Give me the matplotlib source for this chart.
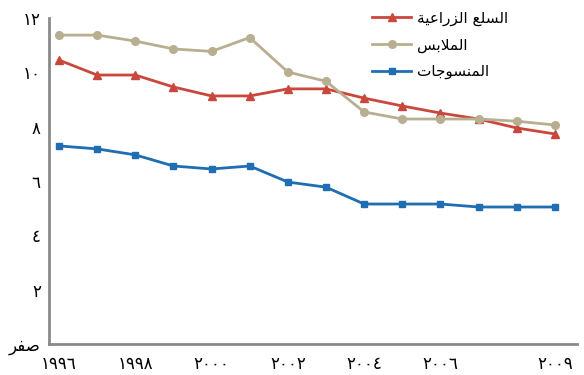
import matplotlib
matplotlib.use("Agg")
import matplotlib.pyplot as plt

# data
years = list(range(1996, 2010))
agri = [10.45, 9.9, 9.9, 9.46, 9.13, 9.13, 9.39, 9.39, 9.05, 8.76, 8.5, 8.28, 7.95, 7.73]
clothes = [11.37, 11.37, 11.15, 10.86, 10.77, 11.28, 10.01, 9.67, 8.54, 8.28, 8.28, 8.28, 8.2, 8.06]
textiles = [7.29, 7.18, 6.96, 6.55, 6.44, 6.55, 5.96, 5.77, 5.15, 5.15, 5.15, 5.04, 5.04, 5.04]

series_names = ["السلع الزراعية", "الملابس", "المنسوجات"]
x_ticks = [1996, 1998, 2000, 2002, 2004, 2006, 2009]
y_ticks = [0, 2, 4, 6, 8, 10, 12]
zero_label = "صفر"

ARABIC_DIGITS = "٠١٢٣٤٥٦٧٨٩"

# presentation forms: isolated, final, initial, medial
FORMS = {
    "ا": ("\uFE8D", "\uFE8E", None, None),
    "ب": ("\uFE8F", "\uFE90", "\uFE91", "\uFE92"),
    "ة": ("\uFE93", "\uFE94", None, None),
    "ت": ("\uFE95", "\uFE96", "\uFE97", "\uFE98"),
    "ج": ("\uFE9D", "\uFE9E", "\uFE9F", "\uFEA0"),
    "ر": ("\uFEAD", "\uFEAE", None, None),
    "ز": ("\uFEAF", "\uFEB0", None, None),
    "س": ("\uFEB1", "\uFEB2", "\uFEB3", "\uFEB4"),
    "ص": ("\uFEB9", "\uFEBA", "\uFEBB", "\uFEBC"),
    "ع": ("\uFEC9", "\uFECA", "\uFECB", "\uFECC"),
    "ف": ("\uFED1", "\uFED2", "\uFED3", "\uFED4"),
    "ل": ("\uFEDD", "\uFEDE", "\uFEDF", "\uFEE0"),
    "م": ("\uFEE1", "\uFEE2", "\uFEE3", "\uFEE4"),
    "ن": ("\uFEE5", "\uFEE6", "\uFEE7", "\uFEE8"),
    "و": ("\uFEED", "\uFEEE", None, None),
    "ي": ("\uFEF1", "\uFEF2", "\uFEF3", "\uFEF4"),
    "\uFEFB": ("\uFEFB", "\uFEFC", None, None),  # lam-alef
}


def shape(text):
    """Join Arabic letters and put them in visual (left-to-right) order."""
    text = text.replace("لا", "\uFEFB")
    out = []
    for i, ch in enumerate(text):
        if ch not in FORMS:
            out.append(ch)
            continue
        prev = text[i - 1] if i > 0 else ""
        nxt = text[i + 1] if i + 1 < len(text) else ""
        join_prev = prev in FORMS and FORMS[prev][2] is not None
        join_next = FORMS[ch][2] is not None and nxt in FORMS
        iso, fin, ini, med = FORMS[ch]
        if join_prev and join_next:
            out.append(med)
        elif join_prev:
            out.append(fin)
        elif join_next:
            out.append(ini)
        else:
            out.append(iso)
    return "".join(reversed(out))


def arabic_num(n):
    return "".join(ARABIC_DIGITS[int(d)] for d in str(n))


plt.rcParams["font.family"] = ["DejaVu Sans"]

fig = plt.figure(figsize=(5.84, 3.75), dpi=100)
ax = fig.add_axes([0.084, 0.083, 0.904, 0.869])

ax.plot(years, agri, color="#c9473c", lw=2, marker="^", ms=6, label=shape(series_names[0]))
ax.plot(years, clothes, color="#b8ae90", lw=2, marker="o", ms=5.5, label=shape(series_names[1]))
ax.plot(years, textiles, color="#1f6db3", lw=2, marker="s", ms=5, label=shape(series_names[2]))

ax.set_xlim(1995.74, 2009.58)
ax.set_ylim(0, 12)
ax.set_xticks(x_ticks)
ax.set_xticklabels([arabic_num(y) for y in x_ticks], fontsize=12)
ax.set_yticks(y_ticks)
ax.set_yticklabels([shape(zero_label)] + [arabic_num(v) for v in y_ticks[1:]], fontsize=12)
ax.tick_params(axis="y", length=0, pad=6)
ax.tick_params(axis="x", length=0, pad=8)

for side in ("top", "right"):
    ax.spines[side].set_visible(False)
for side in ("left", "bottom"):
    ax.spines[side].set_color("#8a8a8a")
    ax.spines[side].set_linewidth(2)

ax.legend(loc="upper left", bbox_to_anchor=(0.585, 1.065), frameon=False,
          fontsize=11, handlelength=2.6, labelspacing=0.75, handletextpad=0.4)

fig.savefig("out.png", dpi=100)
